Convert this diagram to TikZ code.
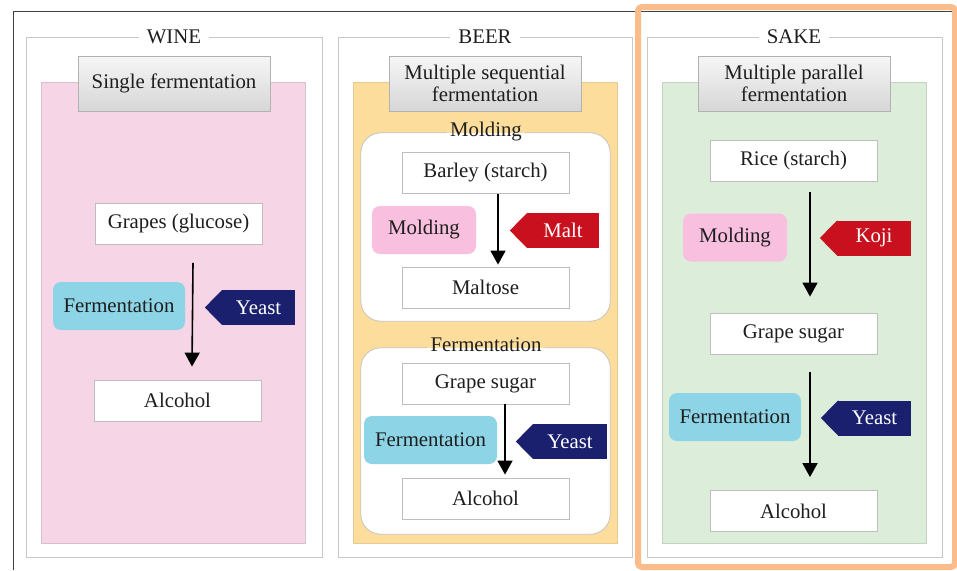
\documentclass[tikz,border=0pt]{standalone}
\usepackage{xcolor}
\usepackage{fontspec}
\setmainfont{Liberation Serif}
\usepackage{tikz}
\usetikzlibrary{arrows.meta}
\definecolor{framegray}{RGB}{200, 200, 200}
\definecolor{boxgray}{RGB}{190, 190, 190}
\definecolor{winepink}{RGB}{246, 214, 230}
\definecolor{beeryellow}{RGB}{253, 221, 155}
\definecolor{sakegreen}{RGB}{220, 238, 218}
\definecolor{moldpink}{RGB}{249, 191, 223}
\definecolor{fermcyan}{RGB}{141, 212, 230}
\definecolor{tagred}{RGB}{200, 16, 30}
\definecolor{tagnavy}{RGB}{26, 31, 110}
\definecolor{highorange}{RGB}{251, 188, 140}
\definecolor{textdark}{RGB}{30, 30, 30}
\newcommand{\tagtip}[2]{\fill[#2] ([xshift=0.5]#1.north west) -- ([xshift=-17]#1.west) -- ([xshift=0.5]#1.south west) -- cycle;}
\tikzset{
    colframe/.style={draw=framegray, line width=0.9pt},
    coltitle/.style={fill=white, inner xsep=8pt, inner ysep=2pt, text=textdark},
    panelbox/.style={line width=0.8pt},
    headbox/.style={draw=gray!60, top color=gray!7, bottom color=gray!32, minimum width=192, minimum height=55, align=center, inner sep=2pt, text=textdark},
    itembox/.style={draw=boxgray, fill=white, line width=0.8pt, minimum width=167, minimum height=41, inner sep=0pt, text=textdark},
    actbox/.style={rounded corners=8, minimum height=48, inner sep=0pt, text=textdark},
    tagbox/.style={fill=#1, text=white, minimum height=35, inner sep=0pt},
    sectpanel/.style={fill=white, rounded corners=20, minimum width=249},
    sectline/.style={draw=gray!45, line width=0.8pt, rounded corners=20},
    sectlabel/.style={inner xsep=3pt, inner ysep=0pt, text=textdark},
    flow/.style={line width=1.6pt, -{Triangle[width=15pt,length=14pt]}}
}
\begin{document}
\begin{tikzpicture}[x=1pt, y=-1pt, font=\fontsize{20.8}{22}\selectfont]
    \useasboundingbox (0,0) rectangle (957,570);
    \fill[white] (0,0) rectangle (957,570);
    \draw[black!75, line width=1pt] (13,570) -- (13,11) -- (952,11);

    % column frames and panels
    \draw[colframe] (26,37) rectangle (322,557);
    \draw[colframe] (338,37) rectangle (632,557);
    \draw[colframe] (647,37) rectangle (942,557);
    \filldraw[panelbox, fill=winepink, draw=winepink!75!gray] (41,82) rectangle (305,543);
    \filldraw[panelbox, fill=beeryellow, draw=beeryellow!80!gray] (353,82) rectangle (617,543);
    \filldraw[panelbox, fill=sakegreen, draw=sakegreen!75!gray] (662,82) rectangle (926,543);
    \node[coltitle] (wineTitle) at (174,37) {WINE};
    \node[coltitle] (beerTitle) at (485,37) {BEER};
    \node[coltitle] (sakeTitle) at (794,37) {SAKE};
    \node[headbox] (wineHead) at (174,83.5) {Single fermentation};
    \node[headbox] (beerHead) at (485,83.5) {Multiple sequential\\fermentation};
    \node[headbox] (sakeHead) at (794,83.5) {Multiple parallel\\fermentation};

    % wine
    \node[itembox] (wineGrapes) at (178.5,224) {Grapes (glucose)};
    \node[actbox, fill=fermcyan, minimum width=132] (wineFerm) at (119,306) {Fermentation};
    \node[tagbox=tagnavy, minimum width=73] (wineYeast) at (258.5,307.5) {Yeast};
    \tagtip{wineYeast}{tagnavy}
    \node[itembox] (wineAlcohol) at (177.5,400.5) {Alcohol};
    \draw[flow] ([shift={(14.5,18)}]wineGrapes.south) -- ([shift={(14.5,-13)}]wineAlcohol.north);

    % beer
    \node[sectpanel, minimum height=188] (beerMold) at (485.5,227) {};
    \node[sectlabel] (beerMoldLab) at (486,132) {Molding};
    \draw[sectline] (beerMoldLab.east |- beerMold.north) -- (beerMold.north east) -- (beerMold.south east)
        -- (beerMold.south west) -- (beerMold.north west) -- (beerMoldLab.west |- beerMold.north);
    \node[itembox] (beerBarley) at (485.5,173) {Barley (starch)};
    \node[actbox, fill=moldpink, minimum width=104] (beerMolding) at (424,230) {Molding};
    \node[tagbox=tagred, minimum width=72] (beerMalt) at (563,230.5) {Malt};
    \tagtip{beerMalt}{tagred}
    \node[itembox] (beerMaltose) at (485.5,287.5) {Maltose};
    \draw[flow] ([shift={(12.5,0)}]beerBarley.south) -- ([shift={(12.5,-2)}]beerMaltose.north);

    \node[sectpanel, minimum height=186] (beerFerm) at (485.5,441) {};
    \node[sectlabel] (beerFermLab) at (486,345) {Fermentation};
    \draw[sectline] (beerFermLab.east |- beerFerm.north) -- (beerFerm.north east) -- (beerFerm.south east)
        -- (beerFerm.south west) -- (beerFerm.north west) -- (beerFermLab.west |- beerFerm.north);
    \node[itembox] (beerSugar) at (485.5,383.5) {Grape sugar};
    \node[actbox, fill=fermcyan, minimum width=133] (beerFermAct) at (430.5,440) {Fermentation};
    \node[tagbox=tagnavy, minimum width=74] (beerYeast) at (570,441.5) {Yeast};
    \tagtip{beerYeast}{tagnavy}
    \node[itembox] (beerAlcohol) at (485.5,498.5) {Alcohol};
    \draw[flow] ([shift={(19.5,0)}]beerSugar.south) -- ([shift={(19.5,-3)}]beerAlcohol.north);

    % sake
    \node[itembox] (sakeRice) at (793.5,160.5) {Rice (starch)};
    \node[actbox, fill=moldpink, minimum width=104] (sakeMolding) at (735,237.5) {Molding};
    \node[tagbox=tagred, minimum width=74] (sakeKoji) at (874,238) {Koji};
    \tagtip{sakeKoji}{tagred}
    \node[itembox] (sakeSugar) at (793.5,333.5) {Grape sugar};
    \node[actbox, fill=fermcyan, minimum width=132] (sakeFerm) at (735,417) {Fermentation};
    \node[tagbox=tagnavy, minimum width=73] (sakeYeast) at (874.5,418) {Yeast};
    \tagtip{sakeYeast}{tagnavy}
    \node[itembox] (sakeAlcohol) at (793.5,511) {Alcohol};
    \draw[flow] ([shift={(16.5,11)}]sakeRice.south) -- ([shift={(16.5,-16)}]sakeSugar.north);
    \draw[flow] ([shift={(16.5,18)}]sakeSugar.south) -- ([shift={(16.5,-13)}]sakeAlcohol.north);

    \draw[highorange, line width=6pt, rounded corners=4] (638,7) rectangle (955,567);
\end{tikzpicture}
\end{document}
